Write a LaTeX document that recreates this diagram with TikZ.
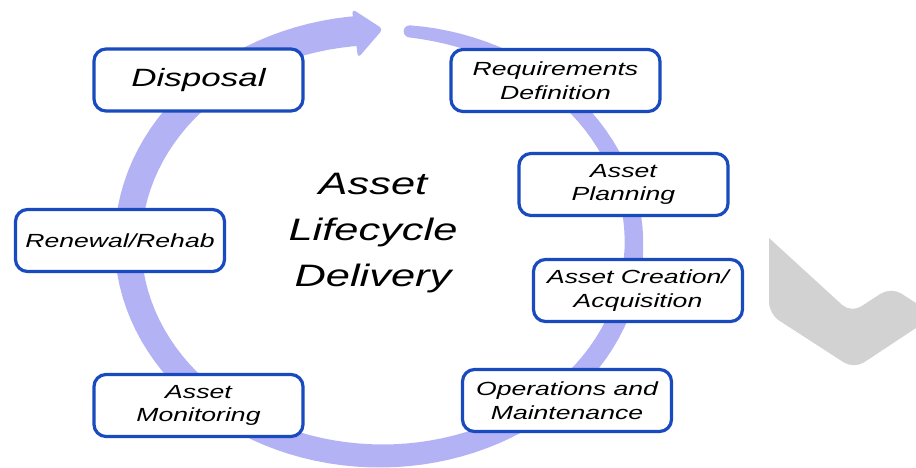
\documentclass[tikz,border=0pt]{standalone}
\usepackage{fontspec}
\setmainfont{Liberation Sans}[FakeStretch=1.4]
\usetikzlibrary{positioning,calc}
\definecolor{ringblue}{RGB}{178,178,245}
\definecolor{boxblue}{RGB}{25,75,190}
\definecolor{markgray}{RGB}{210,210,210}
\tikzset{stagebox/.style={draw=boxblue, line width=3.2pt, rounded corners=12pt, fill=white, minimum width=209pt, minimum height=62pt, inner sep=0pt, align=center, font=\itshape\fontsize{19}{23.5}\selectfont}}
\tikzset{bigstage/.style={stagebox, font=\itshape\fontsize{25}{30}\selectfont}}
\tikzset{ringfill/.style={fill=ringblue}}
\tikzset{hubtext/.style={align=center, inner sep=0pt, font=\itshape\fontsize{31}{46}\selectfont}}
\begin{document}
\begin{tikzpicture}[x=1pt, y=-1pt, declare function={ringw(\t)=12+18*pow((\t+83.5)/349.5,0.7);}]
	\useasboundingbox (0,0) rectangle (916,468);
	% the ring, thin at its start and thick near the head
	\fill[ringfill] plot[domain=-83.5:266, samples=120, variable=\t] ({381+(253+ringw(\t)/2)*cos(\t)}, {243+(213+ringw(\t)/2)*sin(\t)})
		-- plot[domain=266:-83.5, samples=120, variable=\t] ({381+(253-ringw(\t)/2)*cos(\t)}, {243+(213-ringw(\t)/2)*sin(\t)}) -- cycle;
	\coordinate (R0) at ({381+253*cos(-83.5)}, {243+213*sin(-83.5)});
	\fill[ringfill] (R0) circle (6);
	\coordinate (H1) at (352,9);
	\coordinate (H2) at (383,29);
	\coordinate (H3) at (358,58);
	\fill[ringfill, rounded corners=4pt] (H1) -- (H2) -- (H3) -- cycle;
	% stages
	\node[bigstage] (disposal) at (198.5,80) {Disposal};
	\node[stagebox] (reqs) at (555.5,80.5) {Requirements\\Definition};
	\node[stagebox] (plan) at (623.5,184.5) {Asset\\Planning};
	\node[stagebox] (create) at (638,290.5) {Asset Creation/\\Acquisition};
	\node[stagebox] (ops) at (567,400.5) {Operations and\\Maintenance};
	\node[stagebox] (monitor) at (198.5,405.5) {Asset\\Monitoring};
	\node[stagebox] (renew) at (120,240.5) {Renewal/Rehab};
	\node[hubtext] (hub) at (373,233) {Asset\\Lifecycle\\Delivery};
	% grey mark at the right edge
	\fill[markgray] (769,238) [rounded corners=12pt] -- (851,313) -- (891,287) [sharp corners] -- (916,303) -- (916,328)
		[rounded corners=12pt] -- (854,369) -- (769,314) [sharp corners] -- cycle;
\end{tikzpicture}
\end{document}
